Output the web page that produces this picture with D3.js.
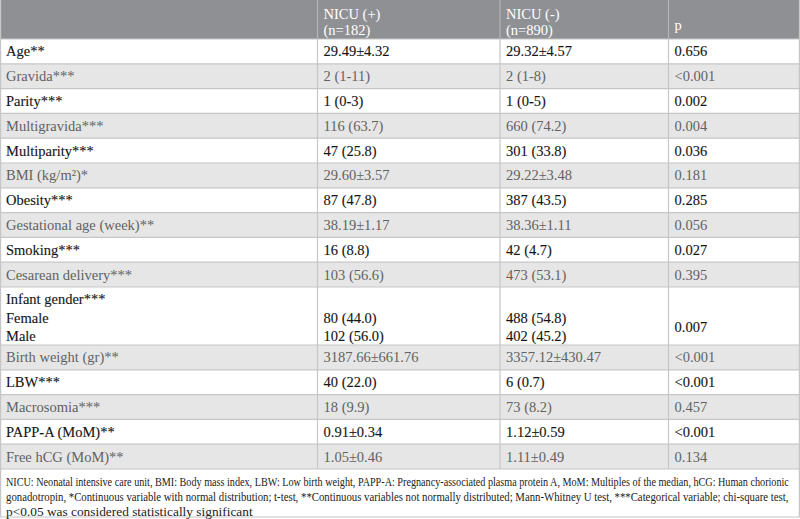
<!DOCTYPE html>
<html><head><meta charset="utf-8">
<script src="https://cdn.jsdelivr.net/npm/d3@7"></script>
<style>
html,body{margin:0;padding:0;background:#fff;}
svg{display:block;}
text{font-family:"Liberation Serif","DejaVu Serif",serif;}
</style></head>
<body>
<svg id="chart" width="800" height="519"></svg>
<script>
// ---- data ----
const headers = [["", ""], ["NICU (+)", "(n=182)"], ["NICU (-)", "(n=890)"], ["p"]];
const variables = [
  ["Age**"], ["Gravida***"], ["Parity***"], ["Multigravida***"], ["Multiparity***"],
  ["BMI (kg/m²)*"], ["Obesity***"], ["Gestational age (week)**"], ["Smoking***"],
  ["Cesarean delivery***"], ["Infant gender***", "Female", "Male"], ["Birth weight (gr)**"],
  ["LBW***"], ["Macrosomia***"], ["PAPP-A (MoM)**"], ["Free hCG (MoM)**"]
];
const nicuPositive = [
  ["29.49±4.32"], ["2 (1-11)"], ["1 (0-3)"], ["116 (63.7)"], ["47 (25.8)"], ["29.60±3.57"],
  ["87 (47.8)"], ["38.19±1.17"], ["16 (8.8)"], ["103 (56.6)"], ["", "80 (44.0)", "102 (56.0)"],
  ["3187.66±661.76"], ["40 (22.0)"], ["18 (9.9)"], ["0.91±0.34"], ["1.05±0.46"]
];
const nicuNegative = [
  ["29.32±4.57"], ["2 (1-8)"], ["1 (0-5)"], ["660 (74.2)"], ["301 (33.8)"], ["29.22±3.48"],
  ["387 (43.5)"], ["38.36±1.11"], ["42 (4.7)"], ["473 (53.1)"], ["", "488 (54.8)", "402 (45.2)"],
  ["3357.12±430.47"], ["6 (0.7)"], ["73 (8.2)"], ["1.12±0.59"], ["1.11±0.49"]
];
const pValues = ["0.656", "<0.001", "0.002", "0.004", "0.036", "0.181", "0.285", "0.056", "0.027",
  "0.395", "0.007", "<0.001", "<0.001", "0.457", "<0.001", "0.134"];
const footnoteLines = [
  "NICU: Neonatal intensive care unit, BMI: Body mass index, LBW: Low birth weight, PAPP-A: Pregnancy-associated plasma protein A, MoM: Multiples of the median, hCG: Human chorionic",
  "gonadotropin, *Continuous variable with normal distribution; t-test, **Continuous variables not normally distributed; Mann-Whitney U test, ***Categorical variable; chi-square test,",
  "p<0.05 was considered statistically significant"
];

// ---- layout ----
const W = 800, H = 519;
const svg = d3.select("#chart");
const colEdges = [0, 317.5, 500, 668.5, 800];
const headerH = 39, rowH = 24.8, multiRowH = 58;
const rowHeights = variables.map(v => v.length > 1 ? multiRowH : rowH);
const rowTops = [];
rowHeights.reduce((acc, h, i) => { rowTops[i] = acc; return acc + h; }, headerH);
const tableBottom = rowTops[rowTops.length - 1] + rowHeights[rowHeights.length - 1];

const colScale = d3.scaleOrdinal().domain([0, 1, 2, 3, 4]).range(colEdges);
const colX = i => colScale(i);
const pad = 6;
const lineColor = "#c6c6c6";

const rows = variables.map((v, i) => ({
  i, label: v, pos: nicuPositive[i], neg: nicuNegative[i], p: pValues[i],
  top: rowTops[i], h: rowHeights[i], shaded: i % 2 === 1
}));

// header background
svg.append("rect").attr("x", 0).attr("y", 0).attr("width", W).attr("height", headerH).attr("fill", "#8f9094");

// row backgrounds
svg.selectAll("rect.row").data(rows).join("rect").attr("class", "row")
  .attr("x", 0).attr("y", d => d.top).attr("width", W).attr("height", d => d.h)
  .attr("fill", d => d.shaded ? "#e6e6e6" : "#ffffff");

// horizontal lines
const hLines = rows.map(d => d.top).concat([tableBottom, H - 2]);
svg.selectAll("line.h").data(hLines).join("line").attr("class", "h")
  .attr("x1", 0).attr("x2", W).attr("y1", d => d).attr("y2", d => d)
  .attr("stroke", lineColor).attr("stroke-width", 1.2);

// vertical lines
svg.selectAll("line.vh").data([1, 2, 3]).join("line").attr("class", "vh")
  .attr("x1", d => colX(d)).attr("x2", d => colX(d)).attr("y1", 0).attr("y2", headerH)
  .attr("stroke", "#b4b5b8").attr("stroke-width", 1.2);
svg.selectAll("line.vb").data([1, 2, 3]).join("line").attr("class", "vb")
  .attr("x1", d => colX(d)).attr("x2", d => colX(d)).attr("y1", headerH).attr("y2", tableBottom)
  .attr("stroke", lineColor).attr("stroke-width", 1.2);
// outer edges
svg.selectAll("line.edge").data([0.6, W - 0.6]).join("line").attr("class", "edge")
  .attr("x1", d => d).attr("x2", d => d).attr("y1", 0).attr("y2", H - 2)
  .attr("stroke", lineColor).attr("stroke-width", 1.2);

// header text
headers.forEach((lines, c) => {
  const t = svg.append("text").attr("x", colX(c) + pad).attr("fill", "#ffffff")
    .attr("font-size", 14.5);
  if (lines.length === 1) {
    t.attr("y", 30).text(lines[0]);
  } else {
    lines.forEach((s, k) => t.append("tspan").attr("x", colX(c) + pad).attr("y", 19 + k * 16).text(s));
  }
});

// body text
const lineGap = 18.5;
function cellText(g, d, c, lines) {
  const base = d.top + d.h / 2 + 5;
  if (lines.length === 1) {
    g.append("text").attr("x", colX(c) + pad).attr("y", base).text(lines[0]);
  } else {
    const y0 = d.top + 17;
    lines.forEach((s, k) => {
      if (s) g.append("text").attr("x", colX(c) + pad).attr("y", y0 + k * lineGap).text(s);
    });
  }
}
const bodyG = svg.selectAll("g.r").data(rows).join("g").attr("class", "r")
  .attr("font-size", 14.5)
  .attr("fill", d => d.shaded ? "#626262" : "#151515")
  .attr("stroke", d => d.shaded ? "none" : "#151515")
  .attr("stroke-width", d => d.shaded ? 0 : 0.12);
bodyG.each(function (d) {
  const g = d3.select(this);
  cellText(g, d, 0, d.label);
  cellText(g, d, 1, d.pos);
  cellText(g, d, 2, d.neg);
  if (d.label.length > 1) {
    g.append("text").attr("x", colX(3) + pad).attr("y", d.top + 17 + 1.5 * lineGap).text(d.p);
  } else {
    g.append("text").attr("x", colX(3) + pad).attr("y", d.top + d.h / 2 + 5).text(d.p);
  }
});

// footnote (condensed horizontally to fit the width)
const fnTargets = [784, 784, 247];
footnoteLines.forEach((s, k) => {
  const g = svg.append("g").attr("transform", `translate(6,${tableBottom + 17 + k * 15})`);
  const t = g.append("text").attr("x", 0).attr("y", 0).attr("font-size", 11.5).attr("fill", "#222").text(s);
  const natural = t.node().getComputedTextLength();
  g.attr("transform", `translate(6,${tableBottom + 17 + k * 15}) scale(${fnTargets[k] / natural},1)`);
});
</script>
</body></html>
